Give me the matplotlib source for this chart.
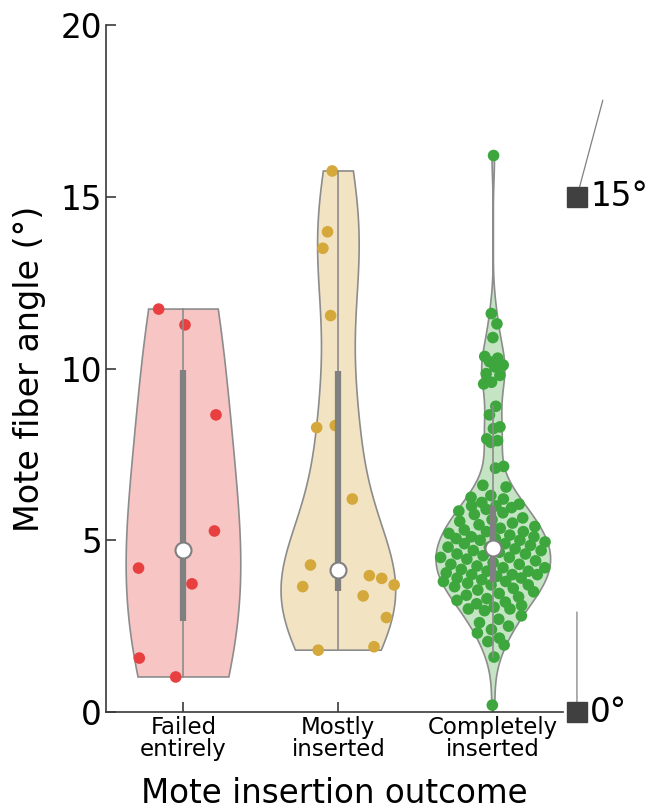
import matplotlib
matplotlib.use('Agg')
import matplotlib.pyplot as plt
import numpy as np

plt.rcParams['font.family'] = ['DejaVu Sans']

# outcome groups and their colours
groups = ['Failed\nentirely', 'Mostly\ninserted', 'Completely\ninserted']
colors = [(0.91, 0.25, 0.25), (0.83, 0.66, 0.23), (0.24, 0.65, 0.24)]

# fiber angles (deg) per outcome
failed = [11.73, 11.27, 8.65, 5.27, 4.19, 3.73, 1.57, 1.02]
failed_jit = [-0.16, 0.01, 0.21, 0.20, -0.29, 0.055, -0.285, -0.05]

mostly = [15.75, 13.98, 13.5, 11.54, 8.28, 8.34, 6.2, 4.28, 3.65, 3.97,
          3.89, 3.70, 3.38, 2.75, 1.80, 1.90]
mostly_jit = [-0.04, -0.07, -0.10, -0.05, -0.14, -0.02, 0.09, -0.18, -0.23, 0.20,
              0.28, 0.36, 0.16, 0.31, -0.13, 0.23]

completely = [16.2,
              11.6, 11.3, 10.9, 10.35, 10.3, 10.2, 10.1, 10.05, 9.85, 9.8,
              9.6, 9.55, 8.9, 8.65, 8.3, 8.25, 7.95, 7.9, 7.85,
              7.15, 7.1,
              6.6, 6.55, 6.3, 6.25, 6.2, 6.1, 6.05, 6.0, 6.0, 5.95,
              5.9, 5.85, 5.8, 5.75, 5.65, 5.6, 5.55, 5.5, 5.45, 5.4, 5.35,
              5.3, 5.25, 5.25, 5.2, 5.15, 5.1, 5.1, 5.05, 5.05, 5.0, 5.0,
              4.95, 4.9, 4.9, 4.85, 4.8, 4.8, 4.75, 4.7, 4.7, 4.65, 4.6,
              4.6, 4.55, 4.5, 4.5, 4.45, 4.4, 4.35, 4.3, 4.3, 4.25, 4.2,
              4.2, 4.15, 4.1, 4.1, 4.05, 4.0, 4.0, 4.0,
              3.95, 3.9, 3.9, 3.85, 3.8, 3.8, 3.75, 3.7, 3.7, 3.65, 3.6,
              3.55, 3.5, 3.45, 3.4, 3.35, 3.3, 3.25, 3.2, 3.15, 3.1, 3.05,
              3.0, 3.0,
              2.95, 2.8, 2.7, 2.6, 2.5, 2.4, 2.3, 2.15, 2.05, 1.95,
              1.6, 0.2]

data = [failed, mostly, completely]
half_w = 0.37


def kde(vals, grid):
    # gaussian kernel, normal-reference bandwidth from the MAD
    v = np.asarray(vals)
    sig = np.median(np.abs(v - np.median(v))) / 0.6745
    bw = sig * (4 / (3 * len(v))) ** 0.2
    d = np.exp(-0.5 * ((grid[:, None] - v[None, :]) / bw) ** 2).sum(1)
    return d / d.max()


fig = plt.figure(figsize=(6.51, 8.09), dpi=100)
ax = fig.add_axes([106 / 651, 97 / 809, 457 / 651, 687 / 809])

for i, (vals, col) in enumerate(zip(data, colors)):
    pos = i + 1
    v = np.asarray(vals)
    grid = np.linspace(v.min(), v.max(), 300)
    d = kde(v, grid)
    xs = np.concatenate([pos - half_w * d, (pos + half_w * d)[::-1]])
    ys = np.concatenate([grid, grid[::-1]])
    ax.fill(xs, ys, facecolor=col + (0.3,), edgecolor='#8c8c8c', lw=1.2, zorder=1)

    if i == 0:
        jit = np.array(failed_jit)
    elif i == 1:
        jit = np.array(mostly_jit)
    else:
        # spread points inside the violin, scaled by local density
        dens = np.interp(v, grid, d)
        frac = (np.arange(1, len(v) + 1) * 0.6180339887) % 1.0
        jit = (frac - 0.5) * 2 * 0.97 * half_w * dens
    ax.scatter(pos + jit, v, s=70, color=col, edgecolors='none', zorder=2)

    q1, med, q3 = np.percentile(v, [25, 50, 75], method='hazen')
    iqr = q3 - q1
    lo = v[v >= q1 - 1.5 * iqr].min()
    hi = v[v <= q3 + 1.5 * iqr].max()
    ax.plot([pos, pos], [lo, hi], color='#8c8c8c', lw=1.2, zorder=3)
    ax.plot([pos, pos], [q1, q3], color='#808080', lw=4.5, solid_capstyle='butt', zorder=4)
    ax.plot(pos, med, 'o', ms=11.5, mfc='white', mec='#808080', mew=1.5, zorder=5)

ax.set_xlim(0.5, 3.45)
ax.set_ylim(0, 20)
ax.set_yticks([0, 5, 10, 15, 20])
ax.set_xticks([1, 2, 3])
ax.set_xticklabels(groups, linespacing=0.95)

for s in ['top', 'right']:
    ax.spines[s].set_visible(False)
for s in ['left', 'bottom']:
    ax.spines[s].set_color('#3a3a3a')
    ax.spines[s].set_linewidth(1.2)

ax.tick_params(axis='y', direction='in', length=7, width=1.2, color='#3a3a3a',
               labelsize=23.5, pad=3)
ax.tick_params(axis='x', direction='in', length=7, width=1.2, color='#3a3a3a',
               labelsize=16.5, pad=3)
ax.set_ylabel('Mote fiber angle (°)', fontsize=24, labelpad=10)
ax.set_xlabel('Mote insertion outcome', fontsize=23.5, labelpad=11)

# fiber orientation glyphs on the right
gx = 3.54
for ang in [15, 0]:
    L = 72
    t = np.deg2rad(ang)
    ax.annotate('', xy=(gx, ang), xycoords='data',
                xytext=(L * np.sin(t), L * np.cos(t)), textcoords='offset points',
                arrowprops=dict(arrowstyle='-', color='#808080', lw=0.9,
                                shrinkA=0, shrinkB=0),
                annotation_clip=False, zorder=6)
    ax.plot(gx, ang, marker='s', ms=15, color='#404040', clip_on=False, zorder=7)
    ax.annotate(f'{ang}°', xy=(gx, ang), xycoords='data', xytext=(9.5, 0),
                textcoords='offset points', ha='left', va='center',
                fontsize=23.5, annotation_clip=False)

fig.savefig('out.png', dpi=100)
